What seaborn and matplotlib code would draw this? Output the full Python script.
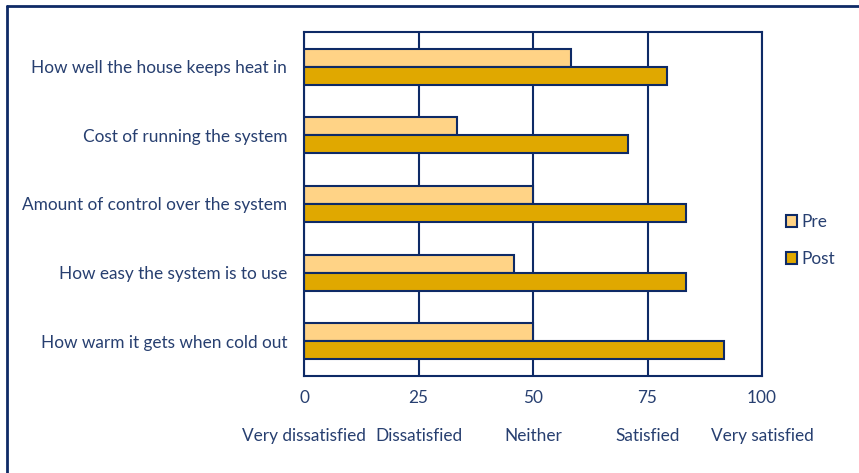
import matplotlib
matplotlib.use("Agg")
import matplotlib.pyplot as plt
import matplotlib.transforms as mtransforms
from matplotlib.lines import Line2D
from matplotlib.patches import Patch
import pandas as pd
import seaborn as sns

# Survey questions (top to bottom) and mean satisfaction scores (0-100)
questions = [
    "How well the house keeps heat in",
    "Cost of running the system",
    "Amount of control over the system",
    "How easy the system is to use",
    "How warm it gets when cold out",
]
pre_scores = [58.33, 33.33, 50.0, 45.83, 50.0]
post_scores = [79.17, 70.83, 83.33, 83.33, 91.67]
periods = ["Pre", "Post"]

tick_values = [0, 25, 50, 75, 100]
tick_names = ["Very dissatisfied", "Dissatisfied", "Neither", "Satisfied", "Very satisfied"]

NAVY = "#0E2A66"
TEXT = "#273F70"
PALETTE = {"Pre": "#FFD386", "Post": "#E0A800"}
FS = 12.4

df = pd.DataFrame({
    "question": questions * 2,
    "period": ["Pre"] * len(questions) + ["Post"] * len(questions),
    "score": pre_scores + post_scores,
})

sns.set_theme(style="white")
plt.rcParams["font.family"] = ["Lato", "DejaVu Sans"]

W, H = 859, 473
fig = plt.figure(figsize=(W / 100, H / 100), dpi=100)
ax = fig.add_axes([304 / W, 1 - 375.7 / H, (762 - 304) / W, (375.7 - 32.3) / H])

sns.barplot(
    data=df, y="question", x="score", hue="period", order=questions,
    hue_order=periods, palette=PALETTE, orient="h", width=0.524,
    edgecolor=NAVY, linewidth=1.5, saturation=1, legend=False, ax=ax,
)

ax.set_xlim(0, 100)
ax.set_ylim(len(questions) - 0.5, -0.5)
ax.set_xticks(tick_values)
ax.set_axisbelow(True)
ax.grid(axis="x", color=NAVY, linewidth=1.5)
ax.grid(axis="y", visible=False)
for side in ["left", "right", "top", "bottom"]:
    ax.spines[side].set_visible(True)
    ax.spines[side].set_color(NAVY)
    ax.spines[side].set_linewidth(1.5)

ax.set_xlabel("")
ax.set_ylabel("")
ax.tick_params(axis="x", length=0, labelbottom=False)
ax.tick_params(axis="y", length=0, pad=12, labelsize=FS, labelcolor=TEXT)

# Two-row x labels: numeric score and its verbal meaning
trans = mtransforms.blended_transform_factory(ax.transData, ax.transAxes)
ax_h = 375.7 - 32.3
for v, name in zip(tick_values, tick_names):
    ax.text(v, -22.5 / ax_h, str(v), transform=trans, ha="center", va="center",
            fontsize=FS, color=TEXT)
    ax.text(v, -(436 - 375.7) / ax_h, name, transform=trans, ha="center",
            va="center", fontsize=FS, color=TEXT)

handles = [Patch(facecolor=PALETTE[p], edgecolor=NAVY, linewidth=1.5, label=p)
           for p in periods]
leg = fig.legend(handles=handles, loc="center left",
                 bbox_to_anchor=(770 / W, 1 - 240.5 / H), frameon=False,
                 handlelength=0.65, handleheight=0.65, handletextpad=0.25,
                 labelspacing=1.2, fontsize=FS)
for t in leg.get_texts():
    t.set_color(TEXT)

# Outer chart frame (left and top edges visible)
fig.add_artist(Line2D([7 / W, 7 / W], [0, 1 - 6 / H], color=NAVY, linewidth=2,
                      transform=fig.transFigure))
fig.add_artist(Line2D([7 / W, 1], [1 - 6 / H, 1 - 6 / H], color=NAVY, linewidth=2,
                      transform=fig.transFigure))

fig.savefig("out.png", dpi=100, facecolor="white")
